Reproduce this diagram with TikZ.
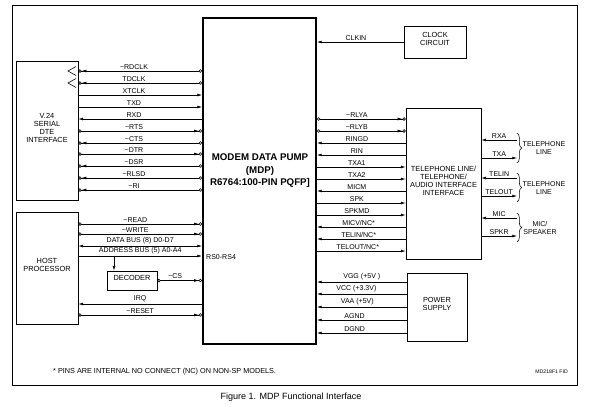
\documentclass[tikz,border=0pt]{standalone}
\usepackage{fontspec}
\setmainfont{Liberation Sans}
\usetikzlibrary{arrows.meta,fit,decorations.pathreplacing}

\tikzset{
    ar/.tip={Latex[length=4pt,width=2.4pt]},
    ci/.tip={Circle[open,length=2.8pt,width=2.8pt]}
}

\begin{document}
\begin{tikzpicture}[x=0.03cm, y=-0.03cm,
    sig/.style={line width=0.5pt},
    lowin/.style={sig, arrows={{ci[] ar[]}-{ci[]}}},
    lowout/.style={sig, arrows={{ci[]}-{ar[] ci[]}}},
    toleft/.style={sig, arrows={{ar[]}-}},
    toright/.style={sig, arrows={-{ar[]}}},
    twoway/.style={sig, arrows={{ar[]}-{ar[]}}},
    lbl/.style={above, pos=.45, inner sep=1.3pt, font=\fontsize{6}{7}\selectfont},
    block/.style={draw, line width=0.6pt, inner sep=0pt, align=center, font=\fontsize{6.3}{6.8}\selectfont}]

    \useasboundingbox (0,0) rectangle (603,406);

    % Draw the frame
    \draw[line width=0.7pt] (12,5) rectangle (577,385);

    % Define the blocks
    \node[draw, line width=1.6pt, inner sep=0pt, fit={(203,18) (316,344)}] (mdp) {};
    \node[block, fit={(16,61) (78,200)}] (v24) {V.24\\SERIAL\\DTE\\INTERFACE};
    \node[block, fit={(16,212) (78,324)}] (host) {HOST\\PROCESSOR};
    \node[block, fit={(107,271) (157,290)}] (dec) {DECODER};
    \node[block, fit={(404,26) (466,58)}] (clock) {CLOCK\\CIRCUIT};
    \node[block, fit={(406,108) (481,259)}] (tel) {TELEPHONE LINE/\\TELEPHONE/\\AUDIO INTERFACE\\INTERFACE};
    \node[block, fit={(407,273) (467,341)}] (power) {POWER\\SUPPLY};

    % Place the title of the modem data pump
    \node[align=center, font=\fontsize{8.3}{10.7}\selectfont\bfseries] (title) at (260,171) {MODEM DATA PUMP\\(MDP)\\R6764:100-PIN PQFP]};

    % Draw the clock inputs
    \draw[sig] (76,66.5) -- (68,71) -- (76,75.5);
    \draw[sig] (76,78.5) -- (68,83) -- (76,87.5);

    % Draw the V.24 signals
    \draw[lowin] (v24.east |- 0,71) -- (mdp.west |- 0,71) node[lbl] {\textasciitilde RDCLK};
    \draw[lowin] (v24.east |- 0,83) -- (mdp.west |- 0,83) node[lbl] {TDCLK};
    \draw[toright] (v24.east |- 0,95) -- (mdp.west |- 0,95) node[lbl] {XTCLK};
    \draw[toright] (v24.east |- 0,107) -- (mdp.west |- 0,107) node[lbl] {TXD};
    \draw[toleft] (v24.east |- 0,119) -- (mdp.west |- 0,119) node[lbl] {RXD};
    \draw[lowout] (v24.east |- 0,131) -- (mdp.west |- 0,131) node[lbl] {\textasciitilde RTS};
    \draw[lowin] (v24.east |- 0,143) -- (mdp.west |- 0,143) node[lbl] {\textasciitilde CTS};
    \draw[lowout] (v24.east |- 0,154) -- (mdp.west |- 0,154) node[lbl] {\textasciitilde DTR};
    \draw[lowin] (v24.east |- 0,166) -- (mdp.west |- 0,166) node[lbl] {\textasciitilde DSR};
    \draw[lowin] (v24.east |- 0,178) -- (mdp.west |- 0,178) node[lbl] {\textasciitilde RLSD};
    \draw[lowin] (v24.east |- 0,190) -- (mdp.west |- 0,190) node[lbl] {\textasciitilde RI};

    % Draw the host signals
    \draw[lowout] (host.east |- 0,224) -- (mdp.west |- 0,224) node[lbl, pos=.46] {\textasciitilde READ};
    \draw[lowout] (host.east |- 0,234) -- (mdp.west |- 0,234) node[lbl, pos=.46] {\textasciitilde WRITE};
    \draw[twoway] (host.east |- 0,246) -- (mdp.west |- 0,246) node[lbl, pos=.5] {DATA BUS (8) D0-D7};
    \draw[toright] (host.east |- 0,256) -- (mdp.west |- 0,256) node[lbl, pos=.5] {ADDRESS BUS (5) A0-A4};
    \coordinate (tap) at (114,256);
    \draw[toright] (tap) -- (dec.north -| tap);
    \draw[lowout] (dec.east) -- (mdp.west |- dec.east) node[lbl, pos=.4] {\textasciitilde CS};
    \draw[toleft] (host.east |- 0,304) -- (mdp.west |- 0,304) node[lbl, pos=.5] {IRQ};
    \draw[lowout] (host.east |- 0,315) -- (mdp.west |- 0,315) node[lbl, pos=.5] {\textasciitilde RESET};
    \node[anchor=west, inner sep=0pt, font=\fontsize{6}{7}\selectfont] (rs) at (206,257) {RS0-RS4};

    % Draw the clock signal
    \draw[toleft] (mdp.east |- clock.west) -- (clock.west) node[lbl] {CLKIN};

    % Draw the telephone interface signals
    \draw[lowout] (mdp.east |- 0,119) -- (tel.west |- 0,119) node[lbl] {\textasciitilde RLYA};
    \draw[lowout] (mdp.east |- 0,131) -- (tel.west |- 0,131) node[lbl] {\textasciitilde RLYB};
    \draw[toleft] (mdp.east |- 0,143) -- (tel.west |- 0,143) node[lbl] {RINGD};
    \draw[toleft] (mdp.east |- 0,155) -- (tel.west |- 0,155) node[lbl] {RIN};
    \draw[toright] (mdp.east |- 0,167) -- (tel.west |- 0,167) node[lbl] {TXA1};
    \draw[toright] (mdp.east |- 0,179) -- (tel.west |- 0,179) node[lbl] {TXA2};
    \draw[toleft] (mdp.east |- 0,191) -- (tel.west |- 0,191) node[lbl] {MICM};
    \draw[toright] (mdp.east |- 0,203) -- (tel.west |- 0,203) node[lbl] {SPK};
    \draw[toright] (mdp.east |- 0,215) -- (tel.west |- 0,215) node[lbl] {SPKMD};
    \draw[toleft] (mdp.east |- 0,227) -- (tel.west |- 0,227) node[lbl, pos=.47] {MICV/NC*};
    \draw[toleft] (mdp.east |- 0,239) -- (tel.west |- 0,239) node[lbl, pos=.47] {TELIN/NC*};
    \draw[toright] (mdp.east |- 0,251) -- (tel.west |- 0,251) node[lbl, pos=.46] {TELOUT/NC*};

    % Draw the line side signals
    \coordinate (brx) at (517,0);
    \draw[toleft] (tel.east |- 0,140) -- (brx |- 0,140) node[lbl, pos=.5] {RXA};
    \draw[toright] (tel.east |- 0,158) -- (brx |- 0,158) node[lbl, pos=.5] {TXA};
    \draw[toleft] (tel.east |- 0,178) -- (brx |- 0,178) node[lbl, pos=.5] {TELIN};
    \draw[toright] (tel.east |- 0,196) -- (brx |- 0,196) node[lbl, pos=.5] {TELOUT};
    \draw[toleft] (tel.east |- 0,218) -- (brx |- 0,218) node[lbl, pos=.5] {MIC};
    \draw[toright] (tel.east |- 0,236) -- (brx |- 0,236) node[lbl, pos=.5] {SPKR};

    % Draw the braces
    \draw[sig, decorate, decoration={brace, amplitude=4pt}] (brx |- 0,133) -- (brx |- 0,163);
    \draw[sig, decorate, decoration={brace, amplitude=4pt}] (brx |- 0,173) -- (brx |- 0,202);
    \draw[sig, decorate, decoration={brace, amplitude=4pt}] (brx |- 0,213) -- (brx |- 0,242);
    \node[align=center, inner sep=0pt, font=\fontsize{6}{6.8}\selectfont] (line1) at (544,148) {TELEPHONE\\LINE};
    \node[align=center, inner sep=0pt, font=\fontsize{6}{6.8}\selectfont] (line2) at (544,188) {TELEPHONE\\LINE};
    \node[align=center, inner sep=0pt, font=\fontsize{6}{6.8}\selectfont] (spk) at (540,228) {MIC/\\SPEAKER};

    % Draw the power lines
    \draw[toleft] (mdp.east |- 0,282) -- (power.west |- 0,282) node[lbl, pos=.5] {VGG (+5V )};
    \draw[toleft] (mdp.east |- 0,294) -- (power.west |- 0,294) node[lbl, pos=.44] {VCC (+3.3V)};
    \draw[toleft] (mdp.east |- 0,307) -- (power.west |- 0,307) node[lbl, pos=.45] {VAA (+5V)};
    \draw[toleft] (mdp.east |- 0,320) -- (power.west |- 0,320) node[lbl, pos=.42] {AGND};
    \draw[toleft] (mdp.east |- 0,333) -- (power.west |- 0,333) node[lbl, pos=.42] {DGND};

    % Place the notes and the caption
    \node[anchor=west, inner sep=0pt, font=\fontsize{6.2}{7}\selectfont] (note) at (53,372) {* PINS ARE INTERNAL NO CONNECT (NC) ON NON-SP MODELS.};
    \node[anchor=east, inner sep=0pt, font=\fontsize{4.4}{5}\selectfont] (fid) at (568,372) {MD218F1 FID};
    \node[inner sep=0pt, font=\fontsize{7.7}{9}\selectfont] (caption) at (291,397) {Figure 1. MDP Functional Interface};

\end{tikzpicture}
\end{document}
